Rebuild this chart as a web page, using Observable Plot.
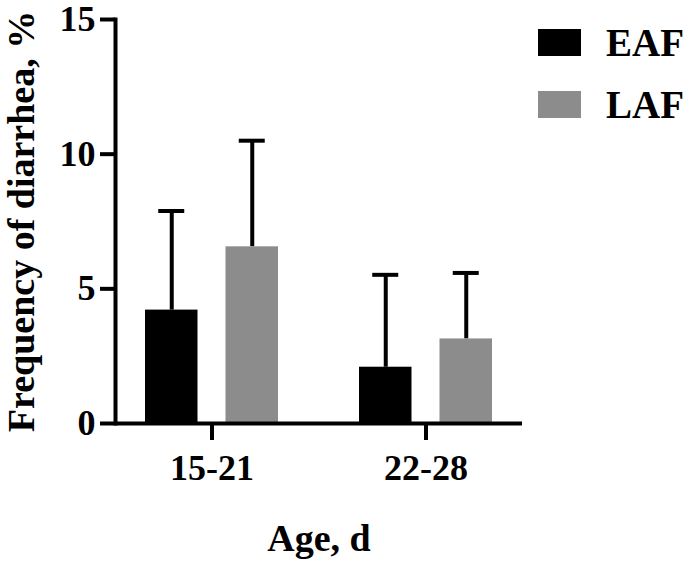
<!DOCTYPE html>
<html>
<head>
<meta charset="utf-8">
<script src="https://cdn.jsdelivr.net/npm/d3@7"></script>
<script src="https://cdn.jsdelivr.net/npm/@observablehq/plot@0.6"></script>
<style>
  html, body { margin: 0; padding: 0; background: white; }
  #wrap { position: relative; width: 688px; height: 563px; }
  #legend { position: absolute; left: 0; top: 0; }
</style>
</head>
<body>
<div id="wrap"></div>
<script>
const ages = ["15-21", "22-28"];
const series = ["EAF", "LAF"];
const colors = ["#000000", "#8c8c8c"];
const eafMean = [4.21, 2.09];
const eafSD = [3.68, 3.43];
const lafMean = [6.56, 3.14];
const lafSD = [3.94, 2.45];
const yTicks = [0, 5, 10, 15];
const yTitle = "Frequency of diarrhea, %";
const xTitle = "Age, d";

const eaf = ages.map((a, i) => ({age: a, series: "EAF", value: eafMean[i], sd: eafSD[i]}));
const laf = ages.map((a, i) => ({age: a, series: "LAF", value: lafMean[i], sd: lafSD[i]}));

const font = "Liberation Serif, Times New Roman, serif";

const chart = Plot.plot({
  width: 688,
  height: 563,
  marginLeft: 115,
  marginRight: 166,
  marginTop: 19,
  marginBottom: 140,
  style: {fontFamily: font, fontWeight: "bold", fontSize: "36px", background: "white", color: "black"},
  x: {domain: ages, paddingInner: 0.3767, paddingOuter: 0.1349, label: null},
  y: {domain: [0, 15], label: null},
  color: {domain: series, range: colors},
  marks: [
    Plot.ruleX(eaf, {x: "age", y1: "value", y2: d => d.value + d.sd, dx: -40.25, stroke: "black", strokeWidth: 4}),
    Plot.ruleX(laf, {x: "age", y1: "value", y2: d => d.value + d.sd, dx: 40.25, stroke: "black", strokeWidth: 4}),
    Plot.tickY(eaf, {x: "age", y: d => d.value + d.sd, insetLeft: 13.25, insetRight: 93.75, stroke: "black", strokeWidth: 4}),
    Plot.tickY(laf, {x: "age", y: d => d.value + d.sd, insetLeft: 93.75, insetRight: 13.25, stroke: "black", strokeWidth: 4}),
    Plot.barY(eaf, {x: "age", y: "value", fill: "series", insetRight: 80.5}),
    Plot.barY(laf, {x: "age", y: "value", fill: "series", insetLeft: 80.5}),
    Plot.frame({anchor: "left", stroke: "black", strokeWidth: 4}),
    Plot.ruleY([0], {stroke: "black", strokeWidth: 4}),
    Plot.axisY({ticks: yTicks, tickSize: 15, tickPadding: 5, strokeWidth: 4, fontSize: 36, fontWeight: "bold", label: null}),
    Plot.axisX({tickSize: 17, tickPadding: 14, strokeWidth: 4, fontSize: 36, fontWeight: "bold", label: null}),
    Plot.text([yTitle], {text: d => d, frameAnchor: "left", rotate: -90, dx: -94, fontSize: 38, fontWeight: "bold", textAnchor: "middle", lineAnchor: "middle"}),
    Plot.text([xTitle], {text: d => d, frameAnchor: "bottom", dy: 115, fontSize: 38, fontWeight: "bold", textAnchor: "middle", lineAnchor: "middle"})
  ]
});

const wrap = document.getElementById("wrap");
wrap.appendChild(chart);

// Legend
const leg = d3.create("svg").attr("id", "legend").attr("width", 688).attr("height", 130);
const rowTop = [29, 91];
series.forEach((s, i) => {
  leg.append("rect").attr("x", 538).attr("y", rowTop[i]).attr("width", 43).attr("height", 27).attr("fill", colors[i]);
  leg.append("text").attr("x", 606).attr("y", rowTop[i] + 27)
    .attr("font-family", font).attr("font-weight", "bold").attr("font-size", 39)
    .attr("fill", "black").text(s);
});
wrap.appendChild(leg.node());
</script>
</body>
</html>
